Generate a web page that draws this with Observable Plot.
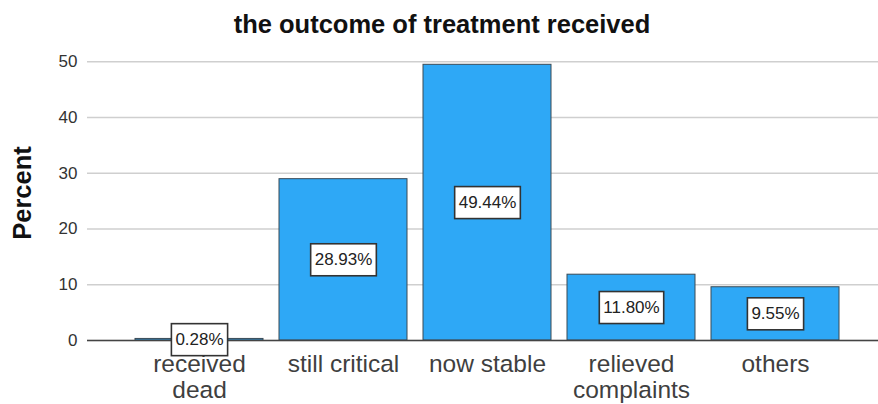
<!DOCTYPE html>
<html>
<head>
<meta charset="utf-8">
<script src="https://cdn.jsdelivr.net/npm/d3@7"></script>
<script src="https://cdn.jsdelivr.net/npm/@observablehq/plot@0.6"></script>
<style>
  html, body { margin: 0; padding: 0; background: #fff; }
  #wrap { width: 878px; height: 404px; overflow: hidden; font-family: "Liberation Sans", Arial, sans-serif; }
  #title { height: 40px; line-height: 48px; text-align: center; font-size: 25.5px; font-weight: bold; color: #111; padding-left: 6px; box-sizing: border-box; }
</style>
</head>
<body>
<div id="wrap">
  <div id="title">the outcome of treatment received</div>
  <div id="chart"></div>
</div>
<script>
const categories = ["received dead", "still critical", "now stable", "relieved complaints", "others"];
const tickLabels = ["received\ndead", "still critical", "now stable", "relieved\ncomplaints", "others"];
const percents = [0.28, 28.93, 49.44, 11.80, 9.55];
const valueLabels = ["0.28%", "28.93%", "49.44%", "11.80%", "9.55%"];
const yTicks = [0, 10, 20, 30, 40, 50];

const data = categories.map((c, i) => ({category: c, value: percents[i], label: valueLabels[i], tick: tickLabels[i]}));
const tickMap = new Map(categories.map((c, i) => [c, tickLabels[i]]));

const chart = Plot.plot({
  width: 878,
  height: 364,
  marginLeft: 87,
  marginRight: 0,
  marginTop: 5,
  marginBottom: 64,
  style: {fontFamily: "Liberation Sans, Arial, sans-serif", background: "#fff"},
  x: {domain: categories, padding: 0.11, insetLeft: 31, insetRight: 22, label: null},
  y: {domain: [0, 52.9], label: null},
  marks: [
    Plot.gridY(yTicks, {stroke: "#cfcfcf", strokeOpacity: 1, strokeWidth: 1.5}),
    Plot.ruleX([0], {frameAnchor: "left", stroke: "#9a9a9a", strokeWidth: 2}),
    Plot.barY(data, {x: "category", y: "value", fill: "#2ea8f6", stroke: "#3a4a55", strokeWidth: 1}),
    Plot.ruleY([0], {stroke: "#444", strokeWidth: 1.5}),
    Plot.axisY(yTicks, {tickSize: 0, tickPadding: 10, fontSize: 17, fill: "#333", label: null}),
    Plot.axisX({tickSize: 0, tickPadding: 14, fontSize: 24.5, fill: "#3f3f3f", lineHeight: 1.03, tickFormat: d => tickMap.get(d), label: null}),
    Plot.text(["Percent"], {frameAnchor: "left", textAnchor: "middle", dx: -65, rotate: -90, fontSize: 25.5, fontWeight: "bold", fill: "#111"}),
    Plot.text(data, {x: "category", y: d => d.value / 2, text: "label", fontSize: 17, fill: "#222"})
  ]
});
document.getElementById("chart").appendChild(chart);

// draw framed boxes behind the value labels
const svg = d3.select(chart.tagName === "svg" ? chart : chart.querySelector("svg"));
svg.selectAll('g[aria-label="text"]').each(function () {
  const g = d3.select(this);
  if (g.selectAll("text").size() !== valueLabels.length) return;
  g.selectAll("text").each(function () {
    const t = this;
    const b = t.getBBox();
    const padX = 4, padY = 6.5;
    const r = document.createElementNS("http://www.w3.org/2000/svg", "rect");
    r.setAttribute("x", b.x - padX);
    r.setAttribute("y", b.y - padY);
    r.setAttribute("width", b.width + 2 * padX);
    r.setAttribute("height", b.height + 2 * padY);
    r.setAttribute("fill", "#fff");
    r.setAttribute("stroke", "#333");
    r.setAttribute("stroke-width", 1.6);
    if (t.getAttribute("transform")) r.setAttribute("transform", t.getAttribute("transform"));
    t.parentNode.insertBefore(r, t);
  });
});
</script>
</body>
</html>
